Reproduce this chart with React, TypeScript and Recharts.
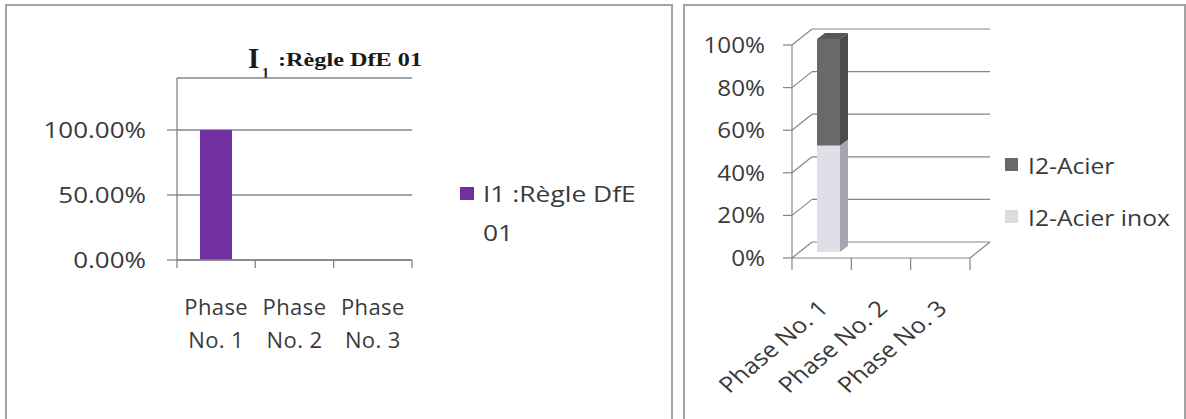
import React from 'react';
import { BarChart, Bar, XAxis, YAxis, CartesianGrid, Legend } from 'recharts';

// ---------- data ----------
const categories = ['Phase No. 1', 'Phase No. 2', 'Phase No. 3'];

const i1Name = 'I1 :Règle DfE 01';
const i1Values = [1, 0, 0];
const i1Ticks = [0, 0.5, 1];
const i1Max = 1.4;

const acierInoxName = 'I2-Acier inox';
const acierName = 'I2-Acier';
const acierInoxValues: (number | null)[] = [0.5, null, null];
const acierValues: (number | null)[] = [0.5, null, null];
const i2Ticks = [0, 0.2, 0.4, 0.6, 0.8, 1];
const legendOrder = [acierName, acierInoxName];

const leftData = categories.map((name, i) => ({ name, i1: i1Values[i] }));
const rightData = categories.map((name, i) => ({
  name,
  inox: acierInoxValues[i],
  acier: acierValues[i],
}));

// ---------- style ----------
const SANS = "'Open Sans', sans-serif";
const SERIF = "'Liberation Serif', 'Times New Roman', serif";
const TEXT = '#3a3a3a';
const GRID = '#868686';
const BORDER = '#a3a3a3';

// left chart layout
const L_W = 672;
const L_H = 419;
const L_YAXIS_W = 177;
const L_MARGIN = { top: 78, right: 260, bottom: 0, left: 0 };
const L_XAXIS_H = 159;
const L_PLOT_W = L_W - L_MARGIN.right - L_YAXIS_W;

// right chart layout
const R_LEFT = 684;
const R_W = 502;
const R_H = 419;
const R_YAXIS_W = 108;
const R_MARGIN = { top: 45, right: 216, bottom: 0, left: 0 };
const R_XAXIS_H = 161;
const R_PLOT_W = R_W - R_MARGIN.right - R_YAXIS_W;

// pseudo-3D geometry
const WALL_DX = 20;
const WALL_DY = -16;
const BAR_OX = 7;
const BAR_OY = -6;
const BAR_DX = 8;
const BAR_DY = -6;

function bandHalf(props: any, plotW: number) {
  const { width, visibleTicksCount } = props;
  const count = visibleTicksCount || categories.length;
  const w = typeof width === 'number' && width > 0 ? width : plotW;
  return w / count / 2;
}

const StretchText = ({
  x,
  y,
  sx,
  size,
  anchor,
  children,
}: {
  x: number;
  y: number;
  sx: number;
  size: number;
  anchor: 'start' | 'middle' | 'end';
  children: React.ReactNode;
}) => (
  <g transform={`translate(${x} ${y}) scale(${sx} 1)`}>
    <text x={0} y={0} dy="0.36em" textAnchor={anchor} fontFamily={SANS} fontSize={size} fill={TEXT}>
      {children}
    </text>
  </g>
);

// ---------- left chart pieces ----------
const LeftYTick = (props: any) => {
  const { x, y, payload } = props;
  return (
    <StretchText x={x} y={y} sx={1.18} size={22} anchor="end">
      {(payload.value * 100).toFixed(2)}%
    </StretchText>
  );
};

const LeftXTick = (props: any) => {
  const { x, y, payload, index, visibleTicksCount } = props;
  const half = bandHalf(props, L_PLOT_W);
  const value = String(payload.value);
  const sp = value.indexOf(' ');
  const first = value.slice(0, sp);
  const rest = value.slice(sp + 1);
  const last = index === (visibleTicksCount || categories.length) - 1;
  return (
    <g>
      <line x1={x - half} y1={y} x2={x - half} y2={y + 8} stroke={GRID} strokeWidth={1.3} />
      {last && <line x1={x + half} y1={y} x2={x + half} y2={y + 8} stroke={GRID} strokeWidth={1.3} />}
      <text
        x={x}
        y={y + 55}
        textAnchor="middle"
        fontFamily={SANS}
        fontSize={22}
        fill={TEXT}
        style={{ letterSpacing: '0.4px' }}
      >
        {first}
      </text>
      <text
        x={x}
        y={y + 88}
        textAnchor="middle"
        fontFamily={SANS}
        fontSize={22}
        fill={TEXT}
        style={{ letterSpacing: '0.4px' }}
      >
        {rest}
      </text>
    </g>
  );
};

const LeftLegend = (props: any) => {
  const items = props.payload || [];
  return (
    <div style={{ fontFamily: SANS, fontSize: 22, color: TEXT, lineHeight: '39px' }}>
      {items.map((it: any) => {
        const value = String(it.value);
        const cut = value.lastIndexOf(' ');
        return (
          <div key={value} style={{ position: 'relative', paddingLeft: 23, width: 190 }}>
            <span
              style={{
                position: 'absolute',
                left: 0,
                top: 13,
                width: 14,
                height: 13,
                background: it.color,
              }}
            />
            <div style={{ transform: 'scaleX(1.2)', transformOrigin: 'left center', whiteSpace: 'nowrap' }}>
              {value.slice(0, cut)}
            </div>
            <div style={{ transform: 'scaleX(1.2)', transformOrigin: 'left center', whiteSpace: 'nowrap' }}>
              {value.slice(cut + 1)}
            </div>
          </div>
        );
      })}
    </div>
  );
};

// ---------- right chart pieces ----------
const RightYTick = (props: any) => {
  const { x, y, payload } = props;
  return (
    <StretchText x={x} y={y} sx={1.1} size={22} anchor="end">
      {Math.round(payload.value * 100)}%
    </StretchText>
  );
};

const RightXTick = (props: any) => {
  const { x, y, payload, index, visibleTicksCount } = props;
  const half = bandHalf(props, R_PLOT_W);
  const last = index === (visibleTicksCount || categories.length) - 1;
  const tx = x + 8;
  const ty = y + 52;
  return (
    <g>
      <line x1={x - half} y1={y} x2={x - half} y2={y + 12} stroke={GRID} strokeWidth={1.2} />
      {last && <line x1={x + half} y1={y} x2={x + half} y2={y + 12} stroke={GRID} strokeWidth={1.2} />}
      <g transform={`translate(${tx} ${ty}) scale(1.15 1) rotate(-44)`}>
        <text x={0} y={0} textAnchor="end" fontFamily={SANS} fontSize={22} fill={TEXT}>
          {payload.value}
        </text>
      </g>
    </g>
  );
};

const BackGridLine = (props: any) => {
  const { x1, y1, x2, y2, y, height, stroke } = props;
  const isFloor = Math.abs(y1 - (y + height)) < 0.5;
  return (
    <g>
      <line x1={x1} y1={y1} x2={x1 + WALL_DX} y2={y1 + WALL_DY} stroke={stroke} strokeWidth={1.2} />
      <line
        x1={x1 + WALL_DX}
        y1={y1 + WALL_DY}
        x2={x2 + WALL_DX}
        y2={y2 + WALL_DY}
        stroke={stroke}
        strokeWidth={1.2}
      />
      {isFloor && (
        <line x1={x2} y1={y2} x2={x2 + WALL_DX} y2={y2 + WALL_DY} stroke={stroke} strokeWidth={1.2} />
      )}
    </g>
  );
};

const prism = (front: string, side: string, top: string) => (props: any) => {
  const { x, y, width, height } = props;
  if (height == null || height <= 0.5 || width == null) return <g />;
  const fx = x + BAR_OX;
  const fy = y + BAR_OY;
  const r = fx + width;
  return (
    <g>
      <polygon
        points={`${r},${fy} ${r + BAR_DX},${fy + BAR_DY} ${r + BAR_DX},${fy + height + BAR_DY} ${r},${fy + height}`}
        fill={side}
      />
      <polygon
        points={`${fx},${fy} ${fx + BAR_DX},${fy + BAR_DY} ${r + BAR_DX},${fy + BAR_DY} ${r},${fy}`}
        fill={top}
      />
      <rect x={fx} y={fy} width={width} height={height} fill={front} />
    </g>
  );
};

const RightLegend = (props: any) => {
  const items = [...(props.payload || [])].sort(
    (a: any, b: any) => legendOrder.indexOf(a.value) - legendOrder.indexOf(b.value)
  );
  return (
    <div style={{ fontFamily: SANS, fontSize: 22, color: TEXT, lineHeight: '52px', whiteSpace: 'nowrap' }}>
      {items.map((it: any) => (
        <div key={it.value} style={{ position: 'relative', paddingLeft: 23 }}>
          <span
            style={{
              position: 'absolute',
              left: 0,
              top: 19,
              width: 13,
              height: 13,
              background: it.value === acierInoxName ? '#dcdbe0' : it.color,
            }}
          />
          <div style={{ transform: 'scaleX(1.12)', transformOrigin: 'left center' }}>{it.value}</div>
        </div>
      ))}
    </div>
  );
};

export default function App() {
  return (
    <div
      style={{
        position: 'absolute',
        left: 0,
        top: 0,
        width: 1186,
        height: 419,
        overflow: 'hidden',
        background: '#ffffff',
      }}
    >
      <svg width={1186} height={419} style={{ position: 'absolute', left: 0, top: 0 }}>
        <rect x={6} y={5} width={666} height={440} fill="none" stroke={BORDER} strokeWidth={2} />
        <rect x={684} y={5} width={501} height={440} fill="none" stroke={BORDER} strokeWidth={2} />
        <g fontFamily={SERIF} fontWeight="bold" fill="#1a1a1a">
          <text x={248} y={68} fontSize={29}>
            I
          </text>
          <text x={262} y={78} fontSize={14}>
            1
          </text>
          <text x={278} y={66} fontSize={19} textLength={144} lengthAdjust="spacingAndGlyphs">
            :Règle DfE 01
          </text>
        </g>
      </svg>

      <div style={{ position: 'absolute', left: 0, top: 0 }}>
        <BarChart width={L_W} height={L_H} data={leftData} margin={L_MARGIN} barSize={32}>
          <CartesianGrid vertical={false} stroke={GRID} strokeWidth={1.3} />
          <XAxis
            dataKey="name"
            height={L_XAXIS_H}
            interval={0}
            tickSize={0}
            tickMargin={0}
            tickLine={false}
            axisLine={{ stroke: GRID, strokeWidth: 1.3 }}
            tick={LeftXTick}
          />
          <YAxis
            width={L_YAXIS_W}
            domain={[0, i1Max]}
            ticks={i1Ticks}
            interval={0}
            tickSize={10}
            tickMargin={21}
            axisLine={{ stroke: GRID, strokeWidth: 1.3 }}
            tickLine={{ stroke: GRID, strokeWidth: 1.3 }}
            tick={LeftYTick}
          />
          <Legend
            layout="vertical"
            align="center"
            verticalAlign="middle"
            wrapperStyle={{ left: 460, top: 174, width: 'auto' }}
            content={LeftLegend}
          />
          <Bar dataKey="i1" name={i1Name} fill="#7030a0" isAnimationActive={false} />
        </BarChart>
      </div>

      <div style={{ position: 'absolute', left: R_LEFT, top: 0 }}>
        <BarChart width={R_W} height={R_H} data={rightData} margin={R_MARGIN} barSize={23}>
          <CartesianGrid vertical={false} horizontal={BackGridLine} stroke={GRID} />
          <XAxis
            dataKey="name"
            height={R_XAXIS_H}
            interval={0}
            tickSize={0}
            tickMargin={0}
            tickLine={false}
            axisLine={{ stroke: GRID, strokeWidth: 1.2 }}
            tick={RightXTick}
          />
          <YAxis
            width={R_YAXIS_W}
            domain={[0, 1]}
            ticks={i2Ticks}
            interval={0}
            tickSize={9}
            tickMargin={18}
            axisLine={{ stroke: GRID, strokeWidth: 1.2 }}
            tickLine={{ stroke: GRID, strokeWidth: 1.2 }}
            tick={RightYTick}
          />
          <Legend
            layout="vertical"
            align="center"
            verticalAlign="middle"
            wrapperStyle={{ left: 321, top: 139, width: 'auto' }}
            content={RightLegend}
          />
          <Bar
            dataKey="inox"
            stackId="s"
            name={acierInoxName}
            fill="#e1dee9"
            shape={prism('#e1dee9', '#a7a3b1', '#cfcbd8')}
            isAnimationActive={false}
          />
          <Bar
            dataKey="acier"
            stackId="s"
            name={acierName}
            fill="#696969"
            shape={prism('#696969', '#4b4b4b', '#575757')}
            isAnimationActive={false}
          />
        </BarChart>
      </div>
    </div>
  );
}
